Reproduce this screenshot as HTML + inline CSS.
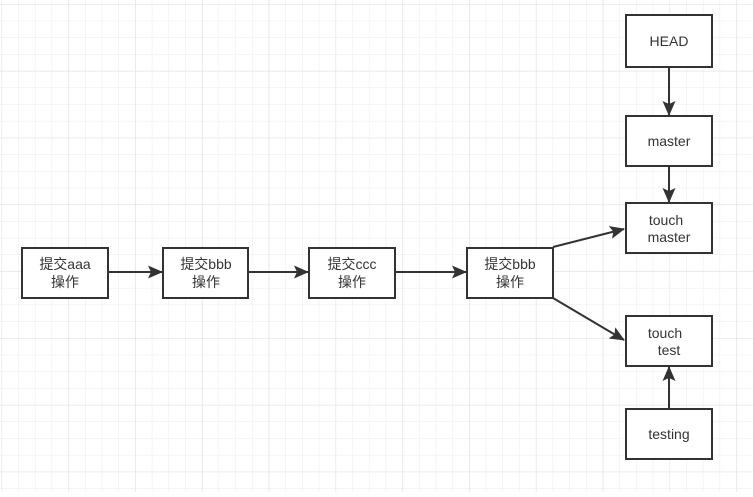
<!DOCTYPE html>
<html><head><style>body{margin:0;background:#fff}</style></head><body>
<svg width="753" height="492" xmlns="http://www.w3.org/2000/svg" font-family="Liberation Sans, Noto Sans CJK SC, sans-serif" font-size="14" fill="#333">
<defs>
<pattern id="g" x="1.5" y="4" width="16.7" height="16.7" patternUnits="userSpaceOnUse">
<path d="M0 0V16.7M0 0H16.7" stroke="#ebebeb" stroke-width="1" fill="none"/>
</pattern>
<pattern id="G" x="1.5" y="4" width="66.8" height="66.8" patternUnits="userSpaceOnUse">
<path d="M0 0V66.8M0 0H66.8" stroke="#e3e3e3" stroke-width="1.3" fill="none"/>
</pattern>
<marker id="a" markerWidth="16" markerHeight="14" refX="14" refY="6.5" orient="auto" markerUnits="userSpaceOnUse">
<path d="M0 0L15 6.5L0 13L3 6.5z" fill="#333"/>
</marker>
</defs>
<rect width="753" height="492" fill="url(#g)"/>
<rect width="753" height="492" fill="url(#G)"/>
<g stroke="#333" stroke-width="2" fill="#fff">
<rect x="22" y="248" width="86" height="50"/>
<rect x="163" y="248" width="85" height="50"/>
<rect x="309" y="248" width="86" height="50"/>
<rect x="467" y="248" width="86" height="50"/>
<rect x="626" y="15" width="86" height="52"/>
<rect x="626" y="116" width="86" height="50"/>
<rect x="626" y="203" width="86" height="50"/>
<rect x="626" y="316" width="86" height="50"/>
<rect x="626" y="409" width="86" height="50"/>
</g>
<g stroke="#333" stroke-width="2" fill="none" marker-end="url(#a)">
<line x1="108" y1="272" x2="162" y2="272"/>
<line x1="248" y1="272" x2="308" y2="272"/>
<line x1="395" y1="272" x2="466" y2="272"/>
<line x1="553" y1="247" x2="624" y2="229"/>
<line x1="553" y1="298" x2="624" y2="340"/>
<line x1="669" y1="67" x2="669" y2="115"/>
<line x1="669" y1="166" x2="669" y2="202"/>
<line x1="669" y1="409" x2="669" y2="367"/>
</g>
<g text-anchor="middle">
<text x="65" y="269">提交aaa</text><text x="65" y="287">操作</text>
<text x="206" y="269">提交bbb</text><text x="206" y="287">操作</text>
<text x="352" y="269">提交ccc</text><text x="352" y="287">操作</text>
<text x="510" y="269">提交bbb</text><text x="510" y="287">操作</text>
<text x="669" y="46">HEAD</text>
<text x="669" y="146">master</text>
<text x="666" y="225">touch</text><text x="669" y="242">master</text>
<text x="665" y="338">touch</text><text x="669" y="355">test</text>
<text x="669" y="439">testing</text>
</g>
</svg>
</body></html>
